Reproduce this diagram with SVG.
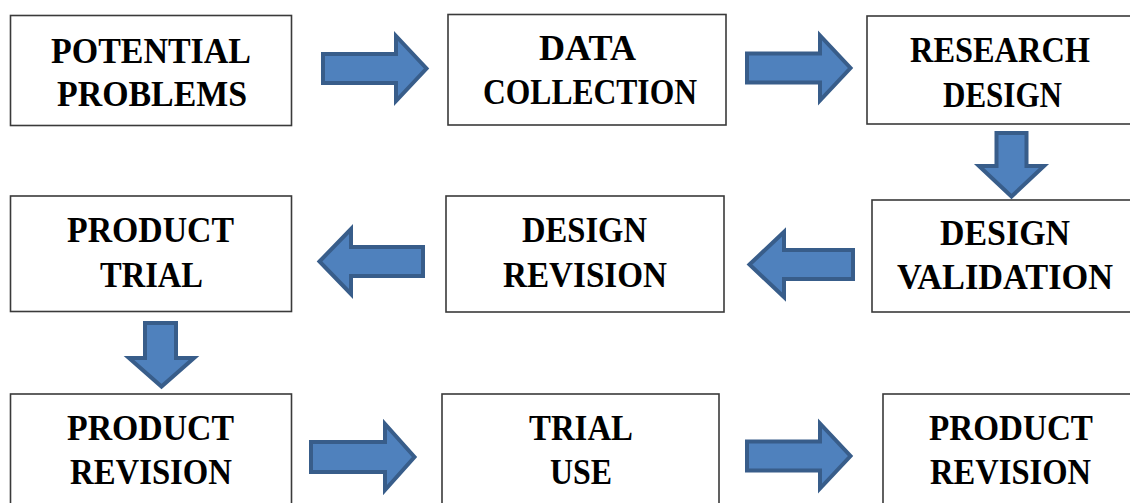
<svg xmlns="http://www.w3.org/2000/svg" width="1130" height="503" viewBox="0 0 1130 503">
<style>
.box{fill:#ffffff;stroke:#3a3a3a;stroke-width:1.6}
.lbl{font-family:"Liberation Serif","Times New Roman",serif;font-weight:bold;font-size:36px;fill:#000000;text-anchor:middle}
.arr{fill:#4f81bd;stroke:#385d8a;stroke-width:4;stroke-linejoin:miter}
</style>
<rect width="1130" height="503" fill="#ffffff"/>
<g id="connectors">
<path class="arr" d="M323,54 H396 V36 L426.5,68.5 L396,101 V83 H323 Z"/>
<path class="arr" d="M747,53.5 H820 V35.5 L850.5,68 L820,100.5 V82.5 H747 Z"/>
<path class="arr" d="M996.5,133 H1026.5 V166 H1044 L1011.5,196.5 L979,166 H996.5 Z"/>
<path class="arr" d="M749.5,264.5 L784,232 V250 H853 V279 H784 V297 Z"/>
<path class="arr" d="M319.5,261.5 L351,229 V247 H423 V276 H351 V294 Z"/>
<path class="arr" d="M145,323 H176 V358 H194 L161.5,386.5 L129,358 H145 Z"/>
<path class="arr" d="M311,442 H385 V424 L414.5,457 L385,490 V472 H311 Z"/>
<path class="arr" d="M747,441.5 H820 V423.5 L850.5,456 L820,488.5 V470.5 H747 Z"/>
</g>
<g id="potential-problems">
<rect class="box" x="10.5" y="15.5" width="281" height="110"/>
<text class="lbl" x="151" y="63" textLength="200" lengthAdjust="spacingAndGlyphs">POTENTIAL</text>
<text class="lbl" x="152" y="106" textLength="190" lengthAdjust="spacingAndGlyphs">PROBLEMS</text>
</g>
<g id="data-collection">
<rect class="box" x="448" y="14.5" width="278" height="110.5"/>
<text class="lbl" x="587.5" y="60" textLength="97" lengthAdjust="spacingAndGlyphs">DATA</text>
<text class="lbl" x="590" y="104" textLength="214" lengthAdjust="spacingAndGlyphs">COLLECTION</text>
</g>
<g id="research-design">
<rect class="box" x="867" y="16" width="268" height="108"/>
<text class="lbl" x="1000" y="62" textLength="180" lengthAdjust="spacingAndGlyphs">RESEARCH</text>
<text class="lbl" x="1002.5" y="107" textLength="119" lengthAdjust="spacingAndGlyphs">DESIGN</text>
</g>
<g id="product-trial">
<rect class="box" x="10.5" y="196" width="281" height="115.5"/>
<text class="lbl" x="150.5" y="242" textLength="167" lengthAdjust="spacingAndGlyphs">PRODUCT</text>
<text class="lbl" x="151.5" y="287" textLength="103" lengthAdjust="spacingAndGlyphs">TRIAL</text>
</g>
<g id="design-revision">
<rect class="box" x="446" y="196" width="278" height="116"/>
<text class="lbl" x="584.5" y="242" textLength="125" lengthAdjust="spacingAndGlyphs">DESIGN</text>
<text class="lbl" x="585" y="287" textLength="164" lengthAdjust="spacingAndGlyphs">REVISION</text>
</g>
<g id="design-validation">
<rect class="box" x="872" y="200" width="266" height="112"/>
<text class="lbl" x="1005" y="245" textLength="130" lengthAdjust="spacingAndGlyphs">DESIGN</text>
<text class="lbl" x="1005" y="289" textLength="216" lengthAdjust="spacingAndGlyphs">VALIDATION</text>
</g>
<g id="product-revision-1">
<rect class="box" x="10.5" y="394" width="281" height="130"/>
<text class="lbl" x="150.5" y="440" textLength="167" lengthAdjust="spacingAndGlyphs">PRODUCT</text>
<text class="lbl" x="151" y="484" textLength="162" lengthAdjust="spacingAndGlyphs">REVISION</text>
</g>
<g id="trial-use">
<rect class="box" x="442" y="394" width="277" height="130"/>
<text class="lbl" x="581" y="440" textLength="104" lengthAdjust="spacingAndGlyphs">TRIAL</text>
<text class="lbl" x="581" y="484" textLength="62" lengthAdjust="spacingAndGlyphs">USE</text>
</g>
<g id="product-revision-2">
<rect class="box" x="883" y="394" width="256" height="130"/>
<text class="lbl" x="1011" y="440" textLength="164" lengthAdjust="spacingAndGlyphs">PRODUCT</text>
<text class="lbl" x="1010.5" y="484" textLength="161" lengthAdjust="spacingAndGlyphs">REVISION</text>
</g>
</svg>
